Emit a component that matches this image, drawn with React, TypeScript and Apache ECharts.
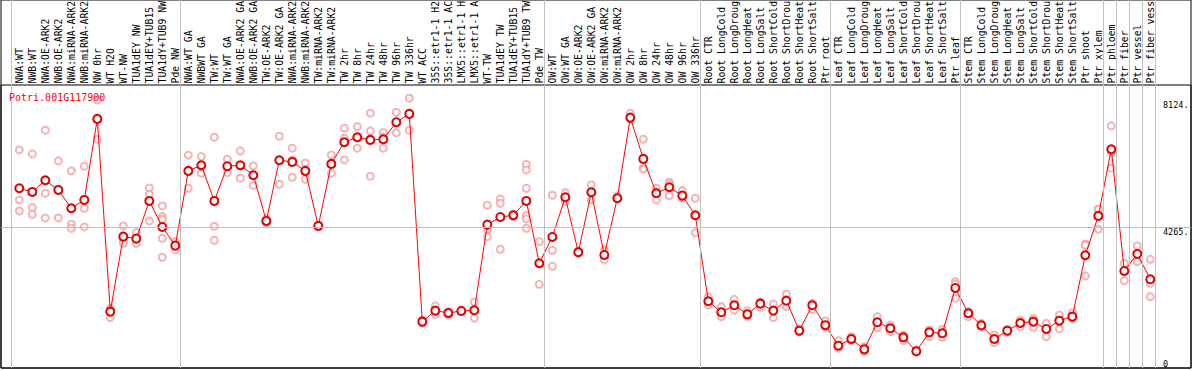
import React, { useEffect, useRef } from "react";
import * as echarts from "echarts";

const categories: string[] = [
  "NWA:WT", "NWB:WT", "NWA:OE-ARK2", "NWB:OE-ARK2", "NWA:miRNA-ARK2", "NWB:miRNA-ARK2",
  "NW 0hr", "WT H2O", "WT-NW", "TUA1dEY NW", "TUA1dEY+TUB15", "TUA1dY+TUB9 NW", "Pde NW",
  "NWA:WT GA", "NWBWT GA", "TW:WT", "TW:WT GA", "NWA:OE-ARK2 GA", "NWB:OE-ARK2 GA",
  "TW:OE-ARK2", "TW:OE-ARK2 GA", "NWA:miRNA-ARK2", "NWB:miRNA-ARK2", "TW:miRNA-ARK2",
  "TW:miRNA-ARK2", "TW 2hr", "TW 8hr", "TW 24hr", "TW 48hr", "TW 96hr", "TW 336hr",
  "WT ACC", "35S::etr1-1 H2", "35S::etr1-1 AC", "LMX5::etr1-1 H", "LMX5::etr1-1 A",
  "WT-TW", "TUA1dEY TW", "TUA1dEY+TUB15", "TUA1dY+TUB9 TW", "Pde TW",
  "OW:WT", "OW:WT GA", "OW:OE-ARK2", "OW:OE-ARK2 GA", "OW:miRNA-ARK2", "OW:miRNA-ARK2",
  "OW 2hr", "OW 8hr", "OW 24hr", "OW 48hr", "OW 96hr", "OW 336hr",
  "Root CTR", "Root LongCold", "Root LongDroug", "Root LongHeat", "Root LongSalt",
  "Root ShortCold", "Root ShortDrou", "Root ShortHeat", "Root ShortSalt", "Ptr root",
  "Leaf CTR", "Leaf LongCold", "Leaf LongDroug", "Leaf LongHeat", "Leaf LongSalt",
  "Leaf ShortCold", "Leaf ShortDrou", "Leaf ShortHeat", "Leaf ShortSalt", "Ptr leaf",
  "Stem CTR", "Stem LongCold", "Stem LongDroug", "Stem LongHeat", "Stem LongSalt",
  "Stem ShortCold", "Stem ShortDrou", "Stem ShortHeat", "Stem ShortSalt", "Ptr shoot",
  "Ptr xylem", "Ptr phloem", "Ptr fiber", "Ptr vessel", "Ptr fiber vess",
];

const meanValues: number[] = [
  5463, 5350, 5706, 5411, 4855, 5107, 7570, 1712, 3992, 3931, 5077, 4286, 3718,
  5989, 6162, 5077, 6132, 6162, 5858, 4469, 6314, 6262, 5989, 4317, 6202, 6861, 7013,
  6931, 6952, 7469, 7722, 1408, 1742, 1672, 1733, 1754, 4356, 4590, 4642, 5077, 3183,
  3982, 5189, 3517, 5341, 3435, 5159, 7609, 6354, 5311, 5493, 5238, 4642,
  2028, 1693, 1906, 1632, 1955, 1742, 2046, 1134, 1906, 1301,
  678, 882, 568, 1389, 1207, 933, 508, 1085, 1055, 2432,
  1663, 1298, 882, 1134, 1368, 1408, 1186, 1438, 1560, 3426,
  4621, 6648, 2949, 3466, 2696,
];

const replicateValues: number[][] = [
  [6627, 5107, 4773], [6506, 4873, 4672], [7226, 5311, 4560], [6293, 5411, 4560],
  [5989, 4368, 4247], [6132, 4855, 4286], [8147, 7570, 6952], [1815, 1712, 1529],
  [4317, 3861, 3791], [4113, 3922, 3791], [5472, 5280, 4469],
  [4925, 4600, 4520, 3943, 3365], [3840, 3724, 3587],
  [6466, 5989, 5463], [6424, 6141, 5919], [7013, 4308, 3882], [6344, 6132, 5937],
  [6597, 6141, 5767], [6141, 5867, 5554], [4520, 4469, 4408], [7044, 6314, 5584],
  [6679, 6323, 5797], [6232, 5989, 5736], [4347, 4317, 4286], [6475, 6202, 5919],
  [7287, 6983, 6323], [7336, 7022, 6679], [7743, 7205, 5828], [7153, 7022, 6679],
  [7773, 7469, 7144], [8199, 7722, 7226], [1459, 1368], [1885, 1742, 1632],
  [1712, 1611], [1772, 1712], [2006, 1754, 1520], [4946, 4195, 3992],
  [5138, 5007, 3608], [4682, 4642, 4600], [6192, 6019, 5463, 4630, 4530, 4247],
  [3840, 3162, 2544],
  [5250, 3578, 3092], [5329, 5189, 5056], [3566, 3487], [5563, 5341, 5107],
  [3587, 3283], [5229, 5138], [7743, 7560], [6952, 6080, 6041], [5463, 5350, 5107],
  [5645, 5594, 5238], [5390, 5159, 5168], [5159, 4651, 4113],
  [2168, 1915], [1864, 1560], [2088, 1763], [1742, 1560], [2006, 1845],
  [1946, 1529], [2250, 1864], [1186, 1094], [1967, 1784], [1429, 1246],
  [830, 599], [952, 830], [648, 496], [1560, 1225], [1307, 1104],
  [1003, 830], [547, 486], [1155, 952], [1176, 933], [2624, 2544, 2119],
  [1712, 1560], [1359, 1237], [1003, 769], [1176, 1073], [1459, 1256],
  [1511, 1237], [1359, 952], [1611, 1186], [1681, 1490], [3770, 3730, 2797],
  [4824, 4824, 4216], [7357, 6545, 6071], [3183, 2654], [3709, 3232], [3304, 2575, 2168],
];

// indices of the first category of each block (and the end)
const groupStarts: number[] = [0, 13, 41, 53, 63, 73, 84, 85, 86, 87, 88];
const yTickLabels: number[] = [4265, 8124];
const yZeroLabel: number[] = [0];
const gridLineValue = 4265;
const yMax = 8600;
const geneName = "Potri.001G117900";

const FONT = "DejaVu Sans Mono";

export default function App() {
  const ref = useRef<HTMLDivElement>(null);

  useEffect(() => {
    if (!ref.current) return;
    const chart = echarts.init(ref.current, undefined, { renderer: "svg" });

    const repPoints: [number, number][] = [];
    replicateValues.forEach((reps, i) => {
      reps.forEach((v) => repPoints.push([i, v]));
    });

    const n = categories.length;
    // full box scale: category i centre at 19.3 + 13 i px, box from x=1 to x=1191
    const xMinIdx = (1 - 19.3) / 13;
    const xMaxIdx = (1191 - 19.3) / 13;

    const option: any = {
      animation: false,
      backgroundColor: "#fff",
      title: {
        text: geneName,
        left: 9,
        top: 92,
        padding: 0,
        textStyle: { fontFamily: FONT, fontSize: 10, color: "#ff0000", fontWeight: "normal" },
      },
      grid: [
        { left: 1, top: 0, right: 3, bottom: 2, show: true, borderColor: "#000", borderWidth: 1, backgroundColor: "transparent", outerBoundsMode: "none", containLabel: false },
        { left: 1, top: 85, right: 3, bottom: 2, show: true, borderColor: "#000", borderWidth: 1, backgroundColor: "transparent", outerBoundsMode: "none", containLabel: false },
        { left: 12.8, width: 13 * n, top: 85, bottom: 2, outerBoundsMode: "none", containLabel: false },
      ],
      xAxis: [
        { gridIndex: 0, type: "value", min: xMinIdx, max: xMaxIdx, show: false },
        { gridIndex: 1, type: "value", min: 0, max: 1, show: false },
        {
          gridIndex: 2,
          type: "category",
          position: "top",
          data: categories,
          boundaryGap: true,
          axisLine: { show: false },
          axisTick: { show: false },
          splitLine: { show: false },
          axisLabel: { interval: 0, rotate: 90, margin: 1.5, fontFamily: FONT, fontSize: 9.8, color: "#000", hideOverlap: false },
        },
      ],
      yAxis: [
        { gridIndex: 0, type: "value", min: 0, max: 1, show: false },
        {
          gridIndex: 1,
          type: "value",
          min: 0,
          max: yMax,
          position: "right",
          axisLine: { show: false },
          axisTick: { show: false },
          splitLine: { show: false },
          axisLabel: {
            inside: true,
            customValues: yTickLabels,
            formatter: (v: number) => `${v}.`,
            align: "left",
            verticalAlign: "top",
            margin: 28,
            fontFamily: FONT,
            fontSize: 8.5,
            color: "#000",
          },
        },
        {
          gridIndex: 1,
          type: "value",
          min: 0,
          max: yMax,
          position: "right",
          axisLine: { show: false },
          axisTick: { show: false },
          splitLine: { show: false },
          axisLabel: {
            inside: true,
            customValues: yZeroLabel,
            formatter: (v: number) => `${v}`,
            align: "left",
            verticalAlign: "bottom",
            margin: 28,
            fontFamily: FONT,
            fontSize: 8.5,
            color: "#000",
          },
        },
        { gridIndex: 2, type: "value", min: 0, max: yMax, show: false },
      ],
      series: [
        {
          type: "line",
          xAxisIndex: 0,
          yAxisIndex: 0,
          data: [],
          silent: true,
          markLine: {
            silent: true,
            symbol: "none",
            label: { show: false },
            lineStyle: { color: "#c0c0c0", width: 1, type: "solid" },
            data: groupStarts.map((b) => ({ xAxis: b - 0.64 })),
          },
        },
        {
          type: "line",
          xAxisIndex: 1,
          yAxisIndex: 1,
          data: [],
          silent: true,
          markLine: {
            silent: true,
            symbol: "none",
            label: { show: false },
            lineStyle: { color: "#c0c0c0", width: 1, type: "solid" },
            data: [{ yAxis: gridLineValue }],
          },
        },
        {
          type: "scatter",
          xAxisIndex: 2,
          yAxisIndex: 3,
          data: repPoints,
          symbol: "emptyCircle",
          symbolSize: 7,
          itemStyle: { color: "#f2a0a0", borderColor: "#f2a0a0", borderWidth: 1 },
          z: 3,
        },
        {
          type: "line",
          xAxisIndex: 2,
          yAxisIndex: 3,
          data: meanValues,
          symbol: "emptyCircle",
          symbolSize: 8,
          showAllSymbol: true,
          lineStyle: { color: "#ff0000", width: 1 },
          itemStyle: { color: "#e00000", borderColor: "#e00000", borderWidth: 1.2 },
          z: 4,
        },
      ],
    };

    chart.setOption(option);
    return () => chart.dispose();
  }, []);

  return (
    <div
      ref={ref}
      style={{ position: "fixed", left: 0, top: 0, width: 1194, height: 370, background: "#fff" }}
    />
  );
}
